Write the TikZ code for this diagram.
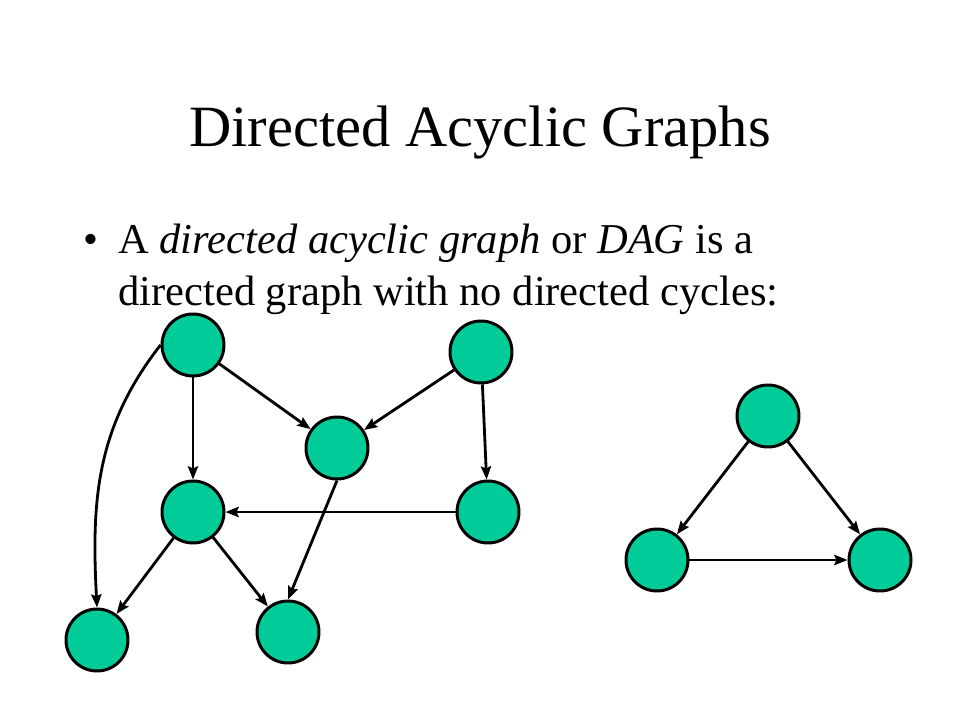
\documentclass[tikz,border=0pt]{standalone}
\usepackage{fontspec}
\setmainfont{Liberation Serif}
\usetikzlibrary{arrows.meta,positioning}
\definecolor{vertexgreen}{RGB}{0,204,153}

\begin{document}
\begin{tikzpicture}[x=0.02cm, y=-0.02cm, >=Stealth,
    vertex/.style={circle, draw=black, fill=vertexgreen, line width=1.7pt, minimum size=1.24cm, inner sep=0pt},
    arc/.style={line width=1.6pt, -{Stealth[length=7.5pt, width=5.8pt, inset=1.2pt]}},
    line/.style={anchor=base west, inner sep=0pt, font=\fontsize{24.2}{29}\selectfont}]
    \useasboundingbox (0,0) rectangle (960,720);

    % Title and bullet
    \node[anchor=base, inner sep=0pt, font=\fontsize{33.3}{40}\selectfont] (title) at (480,146) {Directed Acyclic Graphs};
    \node[line] (bullet) at (83,253) {\textbullet};
    \node[line] (line1) at (118,253) {A \textit{directed acyclic graph} or \textit{DAG} is a};
    \node[line] (line2) at (118,305) {directed graph with no directed cycles:};

    % Left graph
    \node[vertex] (a) at (193,345) {};
    \node[vertex] (b) at (481,352) {};
    \node[vertex] (c) at (337,448) {};
    \node[vertex] (d) at (193,512) {};
    \node[vertex] (e) at (488,512) {};
    \node[vertex] (f) at (97,640) {};
    \node[vertex] (g) at (288,632) {};

    \draw[arc] (a) -- (c);
    \draw[arc] (a) -- (d);
    \draw[arc] (a.west) to[out=232, in=93] (f.north);
    \draw[arc] (b) -- (c);
    \draw[arc] (b) -- (e);
    \draw[arc] (e) -- (d);
    \draw[arc] (c.south) -- (g.north);
    \draw[arc] (d) -- (f);
    \draw[arc] (d) -- (g);

    % Triangle
    \node[vertex] (h) at (768,416) {};
    \node[vertex] (i) at (657,560) {};
    \node[vertex] (j) at (880,560) {};

    \draw[arc] (h) -- (i);
    \draw[arc] (h) -- (j);
    \draw[arc] (i) -- (j);
\end{tikzpicture}
\end{document}
